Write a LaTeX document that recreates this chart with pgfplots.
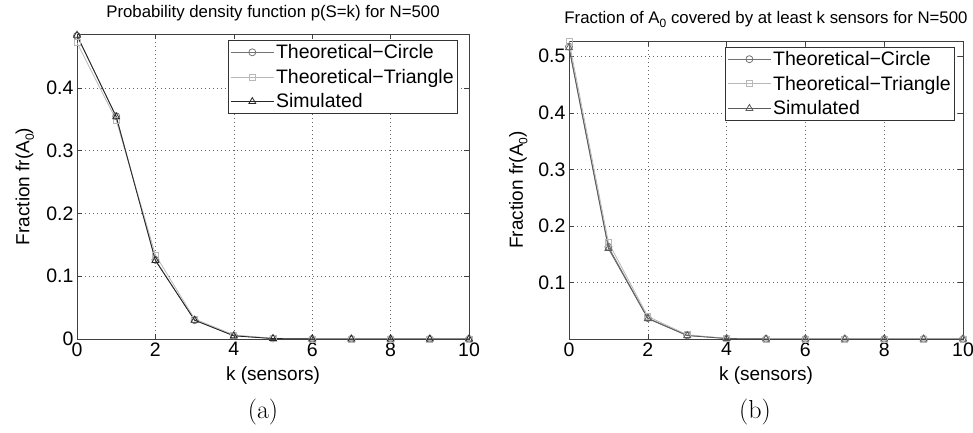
\documentclass[border=0pt]{standalone}
\usepackage{fontspec}
\newfontfamily\helv{Liberation Sans}
\usepackage{pgfplots}
\pgfplotsset{compat=1.18}

\definecolor{cc}{rgb}{0.45,0.45,0.45}
\definecolor{ct}{rgb}{0.72,0.72,0.72}
\definecolor{cs}{rgb}{0.15,0.15,0.15}
\newcommand{\sub}[1]{\raisebox{-0.45ex}{\fontsize{12}{12}\selectfont #1}}

\pgfplotsset{
 myax/.style={
  scale only axis,
  xmin=0,xmax=10,
  xtick={0,2,...,10},
  grid=major,
  grid style={dash pattern=on 1pt off 3pt, black!60, line width=0.6pt},
  tick align=inside,
  major tick length=5pt,
  axis line style={black!75, line width=0.8pt},
  tick style={black!75, line width=0.6pt},
  ticklabel style={font=\helv\fontsize{19.5}{22}\selectfont},
  /pgf/number format/assume math mode=true,
  yticklabel style={/pgf/number format/fixed, /pgf/number format/precision=1},
  xlabel style={font=\helv\fontsize{19}{22}\selectfont, anchor=center},
  ylabel style={font=\helv\fontsize{19}{22}\selectfont, anchor=center},
  title style={font=\helv\fontsize{16.8}{19}\selectfont},
  legend style={font=\helv\fontsize{19.5}{22}\selectfont, draw=black!80, line width=0.8pt, anchor=north east, inner sep=2pt, row sep=5pt},
  legend cell align=left,
  legend image code/.code={\draw[mark repeat=2,mark phase=2] plot coordinates {(0cm,0cm)(0.75cm,0cm)(1.5cm,0cm)};},
  every axis plot/.append style={line width=0.8pt},
  xlabel={k (sensors)},
  ylabel={Fraction fr(A\sub{0})},
 }
}

\begin{document}
\begin{tikzpicture}
\path[use as bounding box] (0,0) rectangle (973pt,433pt);

\begin{axis}[myax,
  at={(77pt,94pt)}, anchor=south west,
  width=392pt, height=305pt,
  ymin=0, ymax=0.486,
  ytick={0,0.1,0.2,0.3,0.4},
  title={Probability density function p(S=k) for N=500},
  title style={yshift=3pt},
  xlabel style={at={(axis description cs:0.5,-0.121)}},
  ylabel style={at={(axis description cs:-0.133,0.5)}},
  legend style={at={(0.972,0.980)}},
]
\addplot[color=cc, mark=o, mark size=3.5pt] coordinates {
 (0,0.483) (1,0.355) (2,0.126) (3,0.030) (4,0.0055) (5,0.0008) (6,0.0001) (7,0) (8,0) (9,0) (10,0)};
\addlegendentry{Theoretical−Circle}
\addplot[color=ct, mark=square, mark size=3pt] coordinates {
 (0,0.472) (1,0.349) (2,0.134) (3,0.032) (4,0.0065) (5,0.001) (6,0.0001) (7,0) (8,0) (9,0) (10,0)};
\addlegendentry{Theoretical−Triangle}
\addplot[color=cs, mark=triangle, mark size=4pt] coordinates {
 (0,0.484) (1,0.354) (2,0.125) (3,0.030) (4,0.005) (5,0.0007) (6,0.0001) (7,0) (8,0) (9,0) (10,0)};
\addlegendentry{Simulated}
\end{axis}

\begin{axis}[myax,
  at={(569pt,94pt)}, anchor=south west,
  width=394pt, height=298pt,
  ymin=0, ymax=0.527,
  ytick={0.1,0.2,0.3,0.4,0.5},
  title={Fraction of A\sub{0} covered by at least k sensors for N=500},
  title style={yshift=4pt},
  xlabel style={at={(axis description cs:0.5,-0.124)}},
  ylabel style={at={(axis description cs:-0.129,0.5)}},
  legend style={at={(0.980,0.980)}},
]
\addplot[color=cc, mark=o, mark size=3.5pt] coordinates {
 (0,0.517) (1,0.163) (2,0.037) (3,0.0065) (4,0.0009) (5,0.0001) (6,0) (7,0) (8,0) (9,0) (10,0)};
\addlegendentry{Theoretical−Circle}
\addplot[color=ct, mark=square, mark size=3pt] coordinates {
 (0,0.527) (1,0.171) (2,0.040) (3,0.0075) (4,0.0011) (5,0.0001) (6,0) (7,0) (8,0) (9,0) (10,0)};
\addlegendentry{Theoretical−Triangle}
\addplot[color=cc!80!black, mark=triangle, mark size=4pt] coordinates {
 (0,0.515) (1,0.160) (2,0.036) (3,0.006) (4,0.0008) (5,0.0001) (6,0) (7,0) (8,0) (9,0) (10,0)};
\addlegendentry{Simulated}
\end{axis}

\node[font=\fontsize{26}{30}\selectfont] at (263pt,21pt) {(a)};
\node[font=\fontsize{26}{30}\selectfont] at (755pt,21pt) {(b)};
\end{tikzpicture}
\end{document}
